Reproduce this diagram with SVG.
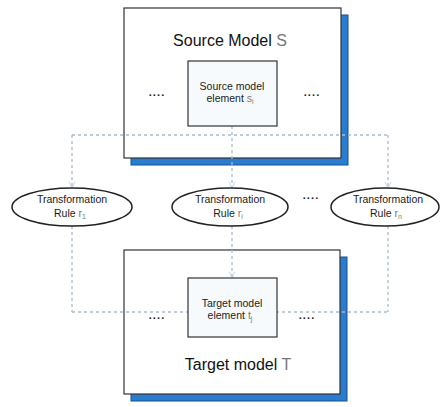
<svg xmlns="http://www.w3.org/2000/svg" width="440" height="407" viewBox="0 0 440 407">
  <style>
    .shadow { fill: #2a7ccf; stroke: #14508f; stroke-width: 1; }
    .model { fill: #ffffff; stroke: #333333; stroke-width: 1.2; }
    .elem { fill: #f7fafc; stroke: #333333; stroke-width: 1.2; }
    .rule { fill: #ffffff; stroke: #222222; stroke-width: 1.5; }
    .title { font-family: "Liberation Sans", Arial, sans-serif; font-size: 16px; fill: #111111; text-anchor: middle; }
    .small { font-family: "Liberation Sans", Arial, sans-serif; font-size: 10.5px; fill: #1a1a1a; text-anchor: middle; }
    .var { fill: #777777; font-family: "Liberation Sans", Arial, sans-serif; }
    .dots { font-family: "Liberation Sans", Arial, sans-serif; font-size: 11px; font-weight: bold; fill: #222222; text-anchor: middle; letter-spacing: 0.5px; }
    .link { fill: none; stroke: #a9bccd; stroke-width: 1.3; stroke-dasharray: 3 3; }
  </style>
  <defs>
    <marker id="tip" viewBox="0 0 10 10" refX="9" refY="5" markerWidth="6" markerHeight="6" orient="auto">
      <path d="M1 1 L9 5 L1 9" fill="none" stroke="#c4d2de" stroke-width="1.2"/>
    </marker>
  </defs>

  <!-- source model container -->
  <g id="source-model">
    <rect class="shadow" x="131" y="15" width="217" height="150"/>
    <rect class="model" x="124" y="8" width="217" height="150"/>
    <text class="title" x="230" y="46">Source Model <tspan class="var">S</tspan></text>
    <text class="dots" x="157" y="99">····</text>
    <text class="dots" x="312" y="99">····</text>
  </g>

  <!-- target model container -->
  <g id="target-model">
    <rect class="shadow" x="131" y="257" width="216" height="144"/>
    <rect class="model" x="124" y="250" width="216" height="144"/>
    <text class="title" x="238" y="370">Target model <tspan class="var">T</tspan></text>
    <text class="dots" x="157" y="322">····</text>
    <text class="dots" x="307" y="322">····</text>
  </g>

  <!-- dotted mapping links -->
  <g id="connectors">
    <path class="link" d="M72 135 H388"/>
    <path class="link" d="M72 312 H388"/>
    <path class="link" d="M72 135 V188" marker-end="url(#tip)"/>
    <path class="link" d="M72 226 V312"/>
    <path class="link" d="M388 135 V188" marker-end="url(#tip)"/>
    <path class="link" d="M388 226 V312"/>
    <path class="link" d="M232 126 V188" marker-end="url(#tip)"/>
    <path class="link" d="M232 226 V278" marker-end="url(#tip)"/>
  </g>

  <g id="source-element">
    <rect class="elem" x="188" y="61" width="89" height="65"/>
    <text class="small" x="232" y="90">Source model</text>
    <text class="small" x="230" y="102">element <tspan class="var">s</tspan><tspan class="var" font-size="7" dy="2">i</tspan></text>
  </g>

  <g id="target-element">
    <rect class="elem" x="188" y="278" width="89" height="59"/>
    <text class="small" x="232" y="307">Target model</text>
    <text class="small" x="230" y="319">element <tspan class="var">t</tspan><tspan class="var" font-size="7" dy="2">j</tspan></text>
  </g>

  <g id="rule-1">
    <ellipse class="rule" cx="72" cy="207" rx="60" ry="19"/>
    <text class="small" x="72" y="203">Transformation</text>
    <text class="small" x="70" y="217">Rule <tspan class="var">r</tspan><tspan class="var" font-size="7" dy="2">1</tspan></text>
  </g>

  <g id="rule-i">
    <ellipse class="rule" cx="230" cy="207" rx="58" ry="19"/>
    <text class="small" x="230" y="203">Transformation</text>
    <text class="small" x="228" y="217">Rule <tspan class="var">r</tspan><tspan class="var" font-size="7" dy="2">i</tspan></text>
  </g>

  <text class="dots" x="311" y="202">····</text>

  <g id="rule-n">
    <ellipse class="rule" cx="385" cy="207" rx="54" ry="19"/>
    <text class="small" x="388" y="203">Transformation</text>
    <text class="small" x="386" y="217">Rule <tspan class="var">r</tspan><tspan class="var" font-size="7" dy="2">n</tspan></text>
  </g>
</svg>
